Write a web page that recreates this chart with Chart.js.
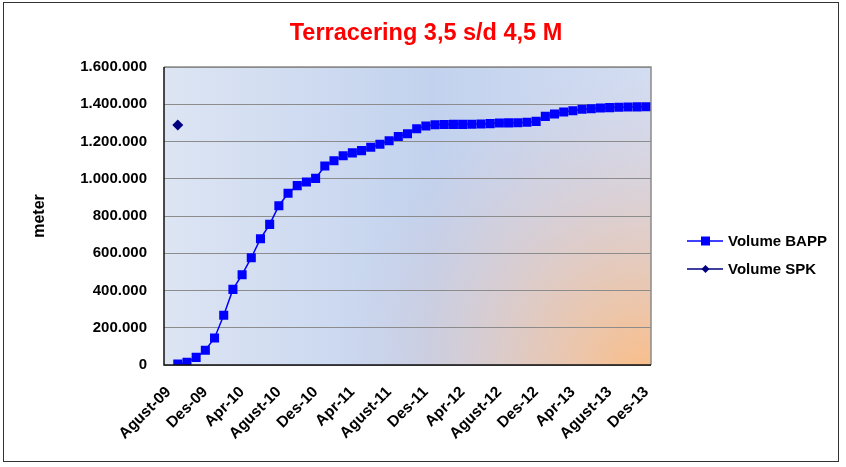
<!DOCTYPE html>
<html>
<head>
<meta charset="utf-8">
<script src="https://cdn.jsdelivr.net/npm/chart.js@4.4.0/dist/chart.umd.min.js"></script>
<style>
  html, body { margin: 0; padding: 0; background: #fff; }
  #wrap { position: relative; width: 846px; height: 467px; }
  #frame { position: absolute; left: 3px; top: 2px; width: 836px; height: 460px; border: 1.5px solid #333; box-sizing: border-box; }
  canvas { position: absolute; left: 0; top: 0; }
</style>
</head>
<body>
<div id="wrap">
  <div id="frame"></div>
  <canvas id="terraceringChart" width="846" height="467"></canvas>
</div>
<script>
// bulan dari Agust-09 s/d Des-13
const bulan = [
  "Agust-09", "Sep-09", "Okt-09", "Nov-09", "Des-09",
  "Jan-10", "Feb-10", "Mar-10", "Apr-10", "Mei-10", "Jun-10", "Jul-10", "Agust-10", "Sep-10", "Okt-10", "Nov-10", "Des-10",
  "Jan-11", "Feb-11", "Mar-11", "Apr-11", "Mei-11", "Jun-11", "Jul-11", "Agust-11", "Sep-11", "Okt-11", "Nov-11", "Des-11",
  "Jan-12", "Feb-12", "Mar-12", "Apr-12", "Mei-12", "Jun-12", "Jul-12", "Agust-12", "Sep-12", "Okt-12", "Nov-12", "Des-12",
  "Jan-13", "Feb-13", "Mar-13", "Apr-13", "Mei-13", "Jun-13", "Jul-13", "Agust-13", "Sep-13", "Okt-13", "Nov-13", "Des-13"
];

const volumeBAPP = [
  null, 5000, 14000, 41000, 79000,
  145000, 267000, 406000, 485000, 576000, 678000, 755000, 855000, 922000, 963000, 983000, 1002000,
  1068000, 1097000, 1123000, 1139000, 1151000, 1169000, 1185000, 1204000, 1227000, 1242000, 1268000, 1283000,
  1290000, 1291000, 1292000, 1292000, 1293000, 1294000, 1296000, 1299000, 1300000, 1301000, 1303000, 1308000,
  1335000, 1348000, 1358000, 1365000, 1373000, 1376000, 1380000, 1382000, 1384000, 1385000, 1386000, 1387000
];

const volumeSPK = [null, 1288000];

const yTicks = [0, 200000, 400000, 600000, 800000, 1000000, 1200000, 1400000, 1600000];

function formatRibuan(v) {
  return String(v).replace(/\B(?=(\d{3})+(?!\d))/g, ".");
}

const FONT = "'Liberation Sans', Arial, sans-serif";

const bgPlugin = {
  id: "bgPlugin",
  beforeDraw(chart) {
    const { ctx, chartArea: a } = chart;
    ctx.save();
    const lin = ctx.createLinearGradient(a.left, 0, a.right, 0);
    lin.addColorStop(0, "#dde5f3");
    lin.addColorStop(0.55, "#c2d2ee");
    lin.addColorStop(1, "#d3ddf1");
    ctx.fillStyle = lin;
    ctx.fillRect(a.left, a.top, a.right - a.left, a.bottom - a.top);
    const rad = ctx.createRadialGradient(a.right - 10, a.bottom + 5, 0, a.right - 10, a.bottom + 5, 300);
    rad.addColorStop(0, "rgba(249,190,138,1)");
    rad.addColorStop(0.35, "rgba(236,196,170,0.75)");
    rad.addColorStop(1, "rgba(215,200,215,0)");
    ctx.fillStyle = rad;
    ctx.fillRect(a.left, a.top, a.right - a.left, a.bottom - a.top);
    ctx.restore();
  },
  afterDraw(chart) {
    const { ctx, chartArea: a } = chart;
    ctx.save();
    // bingkai area plot
    ctx.strokeStyle = "#8a8a8a";
    ctx.lineWidth = 1.5;
    ctx.beginPath();
    ctx.moveTo(a.left, a.top);
    ctx.lineTo(a.right, a.top);
    ctx.lineTo(a.right, a.bottom);
    ctx.stroke();
    ctx.strokeStyle = "#111";
    ctx.beginPath();
    ctx.moveTo(a.left, a.top);
    ctx.lineTo(a.left, a.bottom);
    ctx.lineTo(a.right, a.bottom);
    ctx.stroke();

    // judul
    ctx.fillStyle = "#ff0000";
    ctx.font = "bold 23.5px " + FONT;
    ctx.textAlign = "center";
    ctx.textBaseline = "middle";
    ctx.fillText("Terracering 3,5 s/d 4,5 M", 426, 34);

    // legenda
    const items = [
      { label: "Volume BAPP", color: "#0000ff", y: 241, style: "rect" },
      { label: "Volume SPK", color: "#000080", y: 269, style: "diamond" }
    ];
    items.forEach((it) => {
      ctx.strokeStyle = it.color;
      ctx.lineWidth = 1.5;
      ctx.beginPath();
      ctx.moveTo(687, it.y);
      ctx.lineTo(723, it.y);
      ctx.stroke();
      ctx.fillStyle = it.color;
      if (it.style === "rect") {
        ctx.fillRect(701, it.y - 4.5, 9, 9);
      } else {
        ctx.beginPath();
        ctx.moveTo(705.5, it.y - 4);
        ctx.lineTo(709.5, it.y);
        ctx.lineTo(705.5, it.y + 4);
        ctx.lineTo(701.5, it.y);
        ctx.closePath();
        ctx.fill();
      }
      ctx.fillStyle = "#000";
      ctx.font = "bold 15px " + FONT;
      ctx.textAlign = "left";
      ctx.fillText(it.label, 728, it.y + 1);
    });
    ctx.restore();
  }
};

const ctx = document.getElementById("terraceringChart").getContext("2d");
new Chart(ctx, {
  type: "line",
  data: {
    labels: bulan,
    datasets: [
      {
        label: "Volume BAPP",
        data: volumeBAPP,
        borderColor: "#0000ff",
        backgroundColor: "#0000ff",
        borderWidth: 1.5,
        pointStyle: "rect",
        pointRadius: 6.4,
        pointBorderWidth: 0,
        tension: 0,
        spanGaps: true
      },
      {
        label: "Volume SPK",
        data: volumeSPK,
        borderColor: "#000080",
        backgroundColor: "#000080",
        borderWidth: 1.5,
        pointStyle: "rectRot",
        pointRadius: 5.5,
        pointBorderWidth: 0
      }
    ]
  },
  options: {
    responsive: false,
    animation: false,
    layout: { padding: { left: 0, right: 195, top: 67, bottom: 0 } },
    plugins: {
      legend: { display: false },
      title: { display: false },
      tooltip: { enabled: false }
    },
    scales: {
      x: {
        offset: true,
        grid: { display: false, drawTicks: false },
        border: { display: false },
        ticks: {
          autoSkip: false,
          minRotation: 45,
          maxRotation: 45,
          padding: 18,
          color: "#000",
          font: { family: FONT, size: 15.5, weight: "bold" },
          callback: function (value, index) {
            return index % 4 === 0 ? bulan[index] : "";
          }
        },
        afterFit: (scale) => { scale.height = 102; }
      },
      y: {
        min: 0,
        max: 1600000,
        afterBuildTicks: (scale) => { scale.ticks = yTicks.map((v) => ({ value: v })); },
        grid: { color: "#8c8c8c", lineWidth: 1, drawTicks: false },
        border: { display: false },
        ticks: {
          padding: 17,
          color: "#000",
          font: { family: FONT, size: 15, weight: "bold" },
          callback: (v) => formatRibuan(v)
        },
        title: {
          display: true,
          text: "meter",
          color: "#000",
          font: { family: FONT, size: 16, weight: "bold" },
          padding: { top: 30, bottom: 0 }
        },
        afterFit: (scale) => { scale.width = 164; }
      }
    }
  },
  plugins: [bgPlugin]
});
</script>
</body>
</html>
